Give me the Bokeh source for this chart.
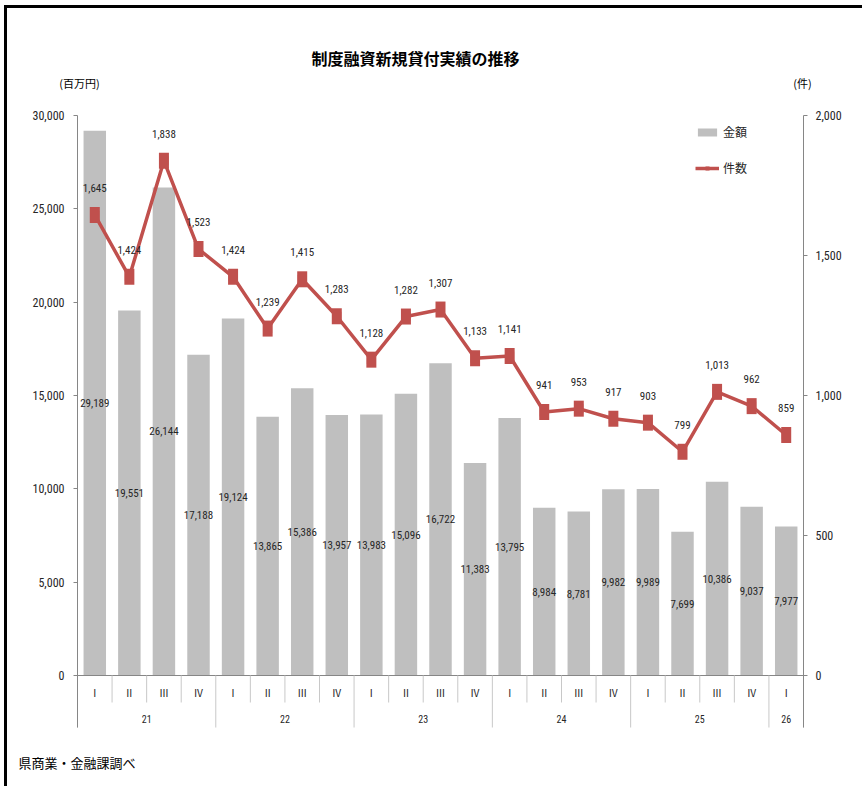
from bokeh.plotting import figure
from bokeh.models import (Range1d, LinearAxis, FixedTicker, NumeralTickFormatter,
                          Label, Legend, LegendItem, ColumnDataSource)
from bokeh.core.properties import value
from bokeh.embed import file_html
from bokeh.resources import INLINE

# ---------------- data ----------------
years = ["21", "21", "21", "21", "22", "22", "22", "22", "23", "23", "23", "23",
         "24", "24", "24", "24", "25", "25", "25", "25", "26"]
quarters = ["Ⅰ", "Ⅱ", "Ⅲ", "Ⅳ", "Ⅰ", "Ⅱ", "Ⅲ", "Ⅳ", "Ⅰ", "Ⅱ", "Ⅲ", "Ⅳ",
            "Ⅰ", "Ⅱ", "Ⅲ", "Ⅳ", "Ⅰ", "Ⅱ", "Ⅲ", "Ⅳ", "Ⅰ"]
amounts = [29189, 19551, 26144, 17188, 19124, 13865, 15386, 13957, 13983, 15096, 16722,
           11383, 13795, 8984, 8781, 9982, 9989, 7699, 10386, 9037, 7977]
counts = [1645, 1424, 1838, 1523, 1424, 1239, 1415, 1283, 1128, 1282, 1307,
          1133, 1141, 941, 953, 917, 903, 799, 1013, 962, 859]
left_ticks = [0, 5000, 10000, 15000, 20000, 25000, 30000]
right_ticks = [0, 500, 1000, 1500, 2000]
series_names = ["金額", "件数"]
title_text = "制度融資新規貸付実績の推移"
left_unit = "(百万円)"
right_unit = "(件)"
source_note = "県商業・金融課調べ"

# ---------------- styles / geometry (page pixels) ----------------
NUM_FONT = "Liberation Sans Narrow, Roboto Condensed, DejaVu Sans Condensed, Liberation Sans"
JP_FONT = "Noto Sans CJK JP"
BAR_COLOR = "#BFBFBF"
LINE_COLOR = "#C0504D"
AXIS_COLOR = "#868686"
SEP_COLOR = "#C8C8C8"
TEXT_COLOR = "#262626"

CX0, CY0, CX1, CY1 = 7, 8, 865, 789   # canvas extent on the page (after 3px top/left border)
W, H = CX1 - CX0, CY1 - CY0
PL, PR = 77, 803                 # plot (category) extent
TOP_Y, ZERO_Y, BAND_Y = 115, 675, 727
SHORT_SEP_Y = 702

n = len(amounts)
cat_w = (PR - PL) / n
lpp = left_ticks[-1] / (ZERO_Y - TOP_Y)
rpp = right_ticks[-1] / (ZERO_Y - TOP_Y)


def xd(px):
    return (px - PL) / cat_w - 0.5


def yl(py):
    return (ZERO_Y - py) * lpp


def yr(py):
    return (ZERO_Y - py) * rpp


idx = list(range(n))
src = ColumnDataSource(dict(
    x=idx, amount=amounts, count=counts,
    amount_mid=[a / 2 for a in amounts],
    amount_lbl=[f"{a:,}" for a in amounts],
    count_lbl=[f"{c:,}" for c in counts],
    quarter=quarters,
))

p = figure(width=W, height=H, output_backend="svg", toolbar_location=None,
           x_range=Range1d(xd(CX0), xd(CX1)), y_range=Range1d(yl(CY1), yl(CY0)),
           x_axis_location=None, y_axis_location=None,
           min_border=0, min_border_left=0, min_border_right=0,
           min_border_top=0, min_border_bottom=0)
p.styles = {"margin-left": "4px", "margin-top": "5px",
            "border-top": "3px solid #000000", "border-left": "3px solid #000000"}
p.grid.visible = False
p.outline_line_color = None
p.background_fill_color = "white"
p.border_fill_color = "white"
p.extra_y_ranges = {"cnt": Range1d(yr(CY1), yr(CY0))}

# axes (library axes, pinned at the category edges)
yl_ax = LinearAxis(ticker=FixedTicker(ticks=left_ticks), formatter=NumeralTickFormatter(format="0,0"),
                   fixed_location=-0.5, bounds=(yl(BAND_Y), left_ticks[-1]))
yr_ax = LinearAxis(y_range_name="cnt", ticker=FixedTicker(ticks=right_ticks),
                   formatter=NumeralTickFormatter(format="0,0"),
                   fixed_location=n - 0.5, bounds=(yr(BAND_Y), right_ticks[-1]))
for ax in (yl_ax, yr_ax):
    ax.axis_line_color = AXIS_COLOR
    ax.major_tick_line_color = AXIS_COLOR
    ax.major_tick_out = 4
    ax.major_tick_in = 0
    ax.minor_tick_line_color = None
    ax.major_label_text_font = NUM_FONT
    ax.major_label_text_font_size = "12px"
    ax.major_label_text_color = TEXT_COLOR
yl_ax.major_label_standoff = 9
yr_ax.major_label_standoff = 8
p.add_layout(yl_ax, "left")
p.add_layout(yr_ax, "right")

# bars
bars = p.vbar(x="x", top="amount", width=0.65, source=src,
              fill_color=BAR_COLOR, line_color=None)
p.segment(x0=[-0.5], y0=[0], x1=[n - 0.5], y1=[0], line_color=AXIS_COLOR, line_width=1)

# category band (quarters / years)
short_x, long_x = [], [-0.5]
for i in range(1, n):
    (long_x if years[i] != years[i - 1] else short_x).append(i - 0.5)
long_x.append(n - 0.5)
p.segment(x0=short_x, y0=[0] * len(short_x), x1=short_x, y1=[yl(SHORT_SEP_Y)] * len(short_x),
          line_color=SEP_COLOR, line_width=1)
p.segment(x0=long_x, y0=[0] * len(long_x), x1=long_x, y1=[yl(BAND_Y)] * len(long_x),
          line_color=SEP_COLOR, line_width=1)
p.text(x="x", y=yl(692), text="quarter", source=src,
       text_align="center", text_baseline="middle", text_font=value(JP_FONT),
       text_font_size="10px", text_color=TEXT_COLOR)
year_names, year_centers = [], []
for y in years:
    if y not in year_names:
        year_names.append(y)
for y in year_names:
    ii = [i for i in idx if years[i] == y]
    year_centers.append(sum(ii) / len(ii))
p.text(x=year_centers, y=[yl(718)] * len(year_centers), text=year_names,
       text_align="center", text_baseline="middle", text_font=value(NUM_FONT),
       text_font_size="10px", text_color=TEXT_COLOR)

# amount labels
p.text(x="x", y="amount_mid", text="amount_lbl", source=src, text_align="center",
       text_baseline="middle", text_font=value(NUM_FONT), text_font_size="11px",
       text_color=TEXT_COLOR)

# count line
line = p.line(x="x", y="count", source=src, y_range_name="cnt",
              line_color=LINE_COLOR, line_width=3.5)
pts = p.scatter(x="x", y="count", source=src, y_range_name="cnt", marker="square",
                size=9, fill_color=LINE_COLOR, line_color=None)
p.rect(x="x", y="count", width=10, height=16, width_units="screen", height_units="screen",
       source=src, y_range_name="cnt", fill_color=LINE_COLOR, line_color=None)
p.text(x="x", y="count", text="count_lbl", source=src, y_range_name="cnt",
       y_offset=-27, text_align="center", text_baseline="middle",
       text_font=value(NUM_FONT), text_font_size="11px", text_color=TEXT_COLOR)

# legend
legend = Legend(items=[LegendItem(label=series_names[0], renderers=[bars]),
                       LegendItem(label=series_names[1], renderers=[line, pts])],
                location=(695 - CX0, CY1 - 176), orientation="vertical",
                glyph_width=24, glyph_height=10, label_height=16, label_width=20,
                spacing=19, padding=0, margin=0, label_standoff=4,
                label_text_font=JP_FONT, label_text_font_size="12px",
                label_text_color=TEXT_COLOR,
                border_line_color=None, background_fill_alpha=0)
p.add_layout(legend)


# texts
def add_label(px, py, text, align="center", size="12px", style="normal"):
    p.add_layout(Label(x=xd(px), y=yl(py), text=text, text_align=align, text_baseline="middle",
                       text_font=JP_FONT, text_font_size=size, text_font_style=style,
                       text_color="#000000"))


add_label(415, 57, title_text, size="16px", style="bold")
add_label(79, 82, left_unit, size="11px")
add_label(802, 82, right_unit, size="11px")
add_label(18, 762, source_note, align="left", size="13px")

open("out.html", "w").write(file_html(p, INLINE))
